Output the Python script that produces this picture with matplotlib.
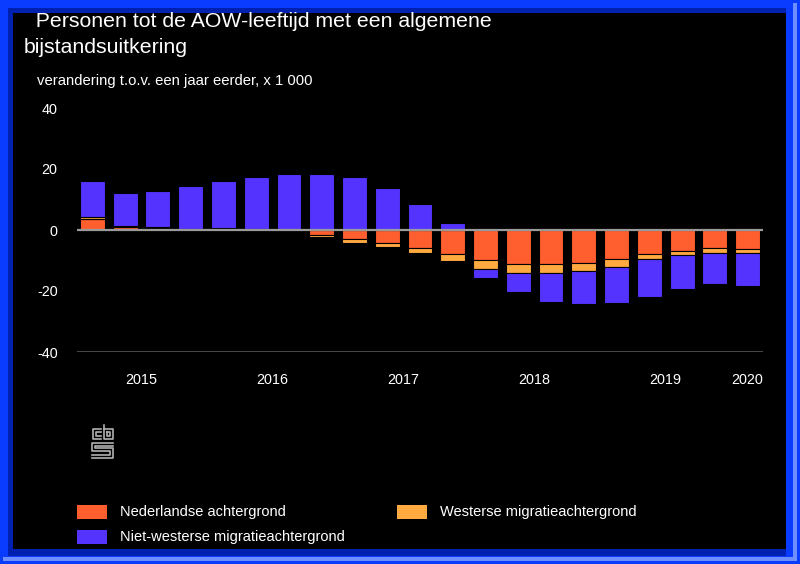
"""Stacked bar chart: Personen tot de AOW-leeftijd met een algemene bijstandsuitkering."""

import matplotlib

matplotlib.use("Agg")

import matplotlib.pyplot as plt  # noqa: E402
import numpy as np  # noqa: E402
from matplotlib.lines import Line2D  # noqa: E402
from matplotlib.patches import Rectangle  # noqa: E402

plt.rcParams["font.family"] = ["Liberation Sans", "DejaVu Sans"]
plt.rcParams["axes.unicode_minus"] = False

# quarterly change vs. a year earlier, x 1 000 (2015 Q1 .. 2020 Q1)
YEAR_LABELS = ["2015", "2016", "2017", "2018", "2019", "2020"]
YEAR_TICKS = [1.5, 5.5, 9.5, 13.5, 17.5, 20]

SERIES = ["Nederlandse achtergrond", "Westerse migratieachtergrond",
          "Niet-westerse migratieachtergrond"]
COLORS = ["#ff5f2f", "#ffaa40", "#5533ff"]

NEDERLANDS = [3.5, 1.0, 0.7, 0.3, 0.7, 0.3, 0.0, -1.7, -3.1, -4.4, -6.0,
              -8.0, -9.9, -11.1, -11.1, -10.7, -9.5, -8.0, -6.8, -5.9, -6.2]
WESTERS = [0.6, 0.3, 0.2, 0.1, 0.1, 0.1, 0.1, -0.6, -1.3, -1.3, -1.4,
           -2.2, -2.8, -2.9, -2.9, -2.6, -2.6, -1.6, -1.5, -1.6, -1.3]
NIET_WESTERS = [12.1, 10.8, 11.9, 14.0, 15.3, 17.1, 18.2, 18.3, 17.5, 13.9,
                8.5, 2.3, -3.2, -6.2, -9.5, -11.0, -11.7, -12.3, -11.0, -10.1,
                -10.7]

W, H = 800, 564


def fx(px):
    return px / W


def fy(py):
    return 1 - py / H


def frame_rect(fig, x0, y0, x1, y1, color):
    # rectangle in pixel coords (top-left origin), drawn behind the axes
    fig.patches.append(Rectangle((fx(x0), fy(y1)), fx(x1) - fx(x0),
                                 fy(y0) - fy(y1), transform=fig.transFigure,
                                 facecolor=color, edgecolor="none",
                                 zorder=-10))


def main():
    fig = plt.figure(figsize=(8.0, 5.64), dpi=100)
    fig.patch.set_facecolor("#0a3cff")

    # frame: bright blue border, dark inner edge, light highlight bottom/right
    frame_rect(fig, 3, 557, 797, 561, "#6f8fff")
    frame_rect(fig, 793, 3, 797, 561, "#6f8fff")
    frame_rect(fig, 8, 8, 786, 556, "#0020b0")
    frame_rect(fig, 13, 13, 786, 549, "black")

    ax = fig.add_axes([fx(77), fy(352), fx(686), fy(108) - fy(352)])
    ax.set_facecolor("black")

    x = np.arange(len(NEDERLANDS))
    pos_bottom = np.zeros(len(x))
    neg_bottom = np.zeros(len(x))
    for values, color in zip([NEDERLANDS, WESTERS, NIET_WESTERS], COLORS):
        v = np.array(values)
        bottom = np.where(v >= 0, pos_bottom, neg_bottom)
        ax.bar(x, v, width=0.76, bottom=bottom, color=color,
               edgecolor="black", linewidth=0.8, zorder=2)
        pos_bottom += np.where(v >= 0, v, 0)
        neg_bottom += np.where(v < 0, v, 0)

    ax.set_xlim(-0.47, len(x) - 0.53)
    ax.set_ylim(-40, 40)
    ax.axhline(0, color="#9a9a9a", linewidth=1.6, zorder=3)
    ax.axhline(-40, color="#555555", linewidth=1.2, zorder=3)

    ax.set_yticks([-40, -20, 0, 20, 40])
    ax.set_xticks(YEAR_TICKS)
    ax.set_xticklabels(YEAR_LABELS)
    ax.tick_params(axis="both", length=0, colors="white", labelsize=10.4)
    ax.tick_params(axis="y", pad=14)
    ax.tick_params(axis="x", pad=15)
    for spine in ax.spines.values():
        spine.set_visible(False)

    fig.text(fx(24), fy(27), "  Personen tot de AOW-leeftijd met een algemene",
             color="white", fontsize=15.3, va="baseline")
    fig.text(fx(24), fy(53), "bijstandsuitkering",
             color="white", fontsize=15.3, va="baseline")
    fig.text(fx(37), fy(85), "verandering t.o.v. een jaar eerder, x 1 000",
             color="white", fontsize=10.75, va="baseline")

    # cbs logo
    logo = "#b0b0b0"
    paths = [
        [(101, 429), (93, 429), (93, 439), (101, 439)],
        [(101, 432), (96, 432), (96, 436), (101, 436)],
        [(104, 425), (104, 439), (113, 439), (113, 429), (104, 429)],
        [(107, 432), (107, 436), (110, 436), (110, 432), (107, 432)],
        [(113, 443), (92, 443), (92, 451), (110, 451), (110, 455), (92, 455)],
        [(113, 446), (95, 446), (95, 448), (113, 448), (113, 458), (92, 458)],
    ]
    for path in paths:
        xs = [fx(p[0]) for p in path]
        ys = [fy(p[1]) for p in path]
        fig.lines.append(Line2D(xs, ys, transform=fig.transFigure,
                                color=logo, linewidth=1.2))

    # legend
    legend_pos = [(77, 512), (397, 512), (77, 537)]
    for (lx, ly), label, color in zip(legend_pos, SERIES, COLORS):
        fig.patches.append(Rectangle((fx(lx), fy(ly + 7)), fx(30),
                                     fy(ly - 7) - fy(ly + 7),
                                     transform=fig.transFigure,
                                     facecolor=color, edgecolor="none"))
        fig.text(fx(lx + 43), fy(ly), label, color="white", fontsize=10.5,
                 va="center")

    fig.savefig("out.png", dpi=100, facecolor=fig.get_facecolor())
    plt.close(fig)


if __name__ == "__main__":
    main()
